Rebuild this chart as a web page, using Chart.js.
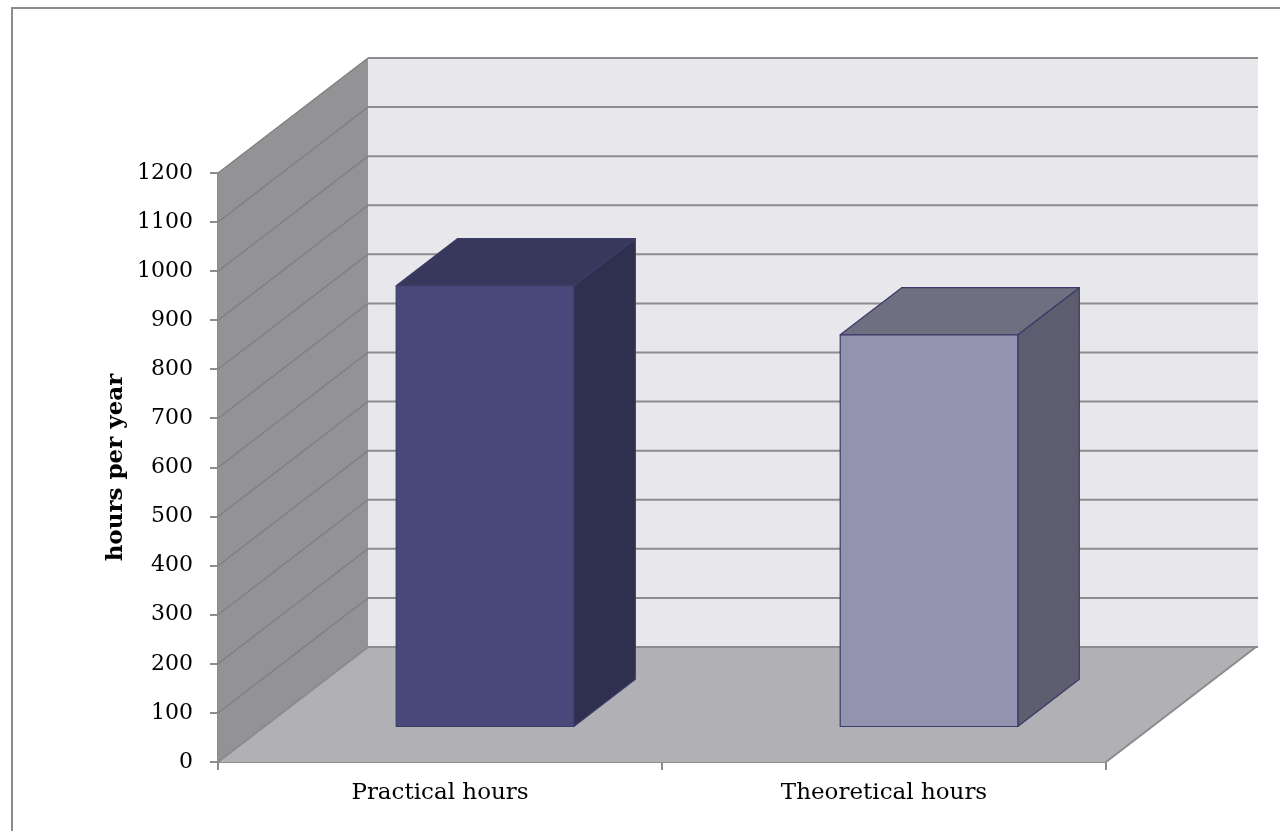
<!DOCTYPE html>
<html>
<head>
<meta charset="utf-8">
<title>hours per year</title>
<script src="https://cdn.jsdelivr.net/npm/chart.js@4/dist/chart.umd.min.js"></script>
<style>
    html, body { margin: 0; padding: 0; background: #fff; }
    canvas { display: block; }
</style>
</head>
<body>
<canvas id="hoursChart" width="1280" height="831"></canvas>
<script>
// Chart data
var categories = ['Practical hours', 'Theoretical hours'];
var hours = [900, 800];
var yTicks = [0, 100, 200, 300, 400, 500, 600, 700, 800, 900, 1000, 1100, 1200];

// Shading for each bar: front, side, top, outline
var barFront = ['#48487a', '#9493af'];
var barSide = ['#2f2f4f', '#5e5c6f'];
var barTop = ['#38385c', '#6f6f80'];
var barEdge = ['#3c3c68', '#3a3a6a'];

// 3D box depth in pixels and where the bars sit inside it
var DEPTH_X = 150;
var DEPTH_Y = 115;
var BAR_FRONT = 0.3;
var BAR_BACK = 0.71;

var serif = "'DejaVu Serif', 'Liberation Serif', serif";

// Frame around the whole chart
var framePlugin = {
    id: 'frame',
    beforeDraw: function(chart) {
        var ctx = chart.ctx;
        ctx.save();
        ctx.fillStyle = '#fff';
        ctx.fillRect(0, 0, chart.width, chart.height);
        ctx.strokeStyle = '#8c8c8c';
        ctx.lineWidth = 2;
        ctx.strokeRect(12, 8, chart.width + 40, chart.height + 40);
        ctx.restore();
    }
};

// Walls, floor and gridlines of the 3D box
var wallsPlugin = {
    id: 'walls',
    beforeDatasetsDraw: function(chart) {
        var ctx = chart.ctx;
        var a = chart.chartArea;
        var y = chart.scales.y;
        var top = y.getPixelForValue(yTicks[yTicks.length - 1]);
        var bottom = y.getPixelForValue(0);
        ctx.save();

        // back wall
        ctx.fillStyle = '#e8e7ec';
        ctx.fillRect(a.left + DEPTH_X, top - DEPTH_Y, a.right - a.left + 2, bottom - top);

        // side wall
        ctx.fillStyle = '#939395';
        ctx.beginPath();
        ctx.moveTo(a.left, bottom);
        ctx.lineTo(a.left, top);
        ctx.lineTo(a.left + DEPTH_X, top - DEPTH_Y);
        ctx.lineTo(a.left + DEPTH_X, bottom - DEPTH_Y);
        ctx.closePath();
        ctx.fill();

        // floor
        ctx.fillStyle = '#b1b0b5';
        ctx.beginPath();
        ctx.moveTo(a.left, bottom);
        ctx.lineTo(a.left + DEPTH_X, bottom - DEPTH_Y);
        ctx.lineTo(a.right + DEPTH_X, bottom - DEPTH_Y);
        ctx.lineTo(a.right, bottom);
        ctx.closePath();
        ctx.fill();

        // gridlines
        yTicks.forEach(function(v) {
            var p = y.getPixelForValue(v);
            ctx.strokeStyle = '#7e7e80';
            ctx.lineWidth = 1.2;
            ctx.beginPath();
            ctx.moveTo(a.left, p);
            ctx.lineTo(a.left + DEPTH_X, p - DEPTH_Y);
            ctx.stroke();
            ctx.strokeStyle = '#8c8c8c';
            ctx.lineWidth = 2;
            ctx.beginPath();
            ctx.moveTo(a.left + DEPTH_X, p - DEPTH_Y);
            ctx.lineTo(a.right + DEPTH_X + 2, p - DEPTH_Y);
            ctx.stroke();
        });

        // floor edges
        ctx.strokeStyle = '#8c8c8c';
        ctx.lineWidth = 2;
        ctx.beginPath();
        ctx.moveTo(a.left, bottom);
        ctx.lineTo(a.left + DEPTH_X, bottom - DEPTH_Y);
        ctx.moveTo(a.right, bottom);
        ctx.lineTo(a.right + DEPTH_X, bottom - DEPTH_Y);
        ctx.stroke();
        ctx.restore();
    },
    afterDatasetsDraw: function(chart) {
        var ctx = chart.ctx;
        var meta = chart.getDatasetMeta(0);
        var dx = (BAR_BACK - BAR_FRONT) * DEPTH_X;
        var dy = (BAR_BACK - BAR_FRONT) * DEPTH_Y;
        ctx.save();
        ctx.lineWidth = 1.2;
        ctx.lineJoin = 'round';
        meta.data.forEach(function(bar, i) {
            var x0 = bar.x - bar.width / 2 + BAR_FRONT * DEPTH_X;
            var x1 = bar.x + bar.width / 2 + BAR_FRONT * DEPTH_X;
            var yt = bar.y - BAR_FRONT * DEPTH_Y;
            var yb = bar.base - BAR_FRONT * DEPTH_Y;
            ctx.strokeStyle = barEdge[i];

            // side
            ctx.fillStyle = barSide[i];
            ctx.beginPath();
            ctx.moveTo(x1, yt);
            ctx.lineTo(x1 + dx, yt - dy);
            ctx.lineTo(x1 + dx, yb - dy);
            ctx.lineTo(x1, yb);
            ctx.closePath();
            ctx.fill();
            ctx.stroke();

            // top
            ctx.fillStyle = barTop[i];
            ctx.beginPath();
            ctx.moveTo(x0, yt);
            ctx.lineTo(x0 + dx, yt - dy);
            ctx.lineTo(x1 + dx, yt - dy);
            ctx.lineTo(x1, yt);
            ctx.closePath();
            ctx.fill();
            ctx.stroke();

            // front
            ctx.fillStyle = barFront[i];
            ctx.fillRect(x0, yt, x1 - x0, yb - yt);
            ctx.strokeRect(x0, yt, x1 - x0, yb - yt);
        });
        ctx.restore();
    }
};

var ctx1 = document.getElementById('hoursChart').getContext('2d');
var hoursChart = new Chart(ctx1, {
    type: 'bar',
    data: {
        labels: categories,
        datasets: [{
            label: 'hours per year',
            data: hours,
            backgroundColor: 'transparent',
            borderWidth: 0,
            categoryPercentage: 1,
            barPercentage: 0.4
        }]
    },
    options: {
        responsive: false,
        animation: false,
        events: [],
        layout: { padding: { top: 173, right: 174, bottom: 0, left: 0 } },
        plugins: {
            legend: { display: false },
            tooltip: { enabled: false }
        },
        scales: {
            x: {
                afterFit: function(scale) { scale.height = 69; },
                grid: { drawOnChartArea: false, drawTicks: true, tickLength: 8, color: '#8c8c8c', lineWidth: 2 },
                border: { display: true, color: '#8c8c8c', width: 2 },
                ticks: { color: '#000', padding: 9, font: { family: serif, size: 23 } }
            },
            y: {
                min: 0,
                max: 1200,
                afterFit: function(scale) { scale.width = 218; },
                afterBuildTicks: function(scale) {
                    scale.ticks = yTicks.map(function(v) { return { value: v }; });
                },
                grid: { drawOnChartArea: false, drawTicks: true, tickLength: 8, color: '#8c8c8c', lineWidth: 2 },
                border: { display: true, color: '#8c8c8c', width: 2 },
                ticks: {
                    color: '#000',
                    padding: 17,
                    font: { family: serif, size: 22 },
                    callback: function(value) { return String(value); }
                },
                title: {
                    display: true,
                    text: 'hours per year',
                    color: '#000',
                    padding: { top: 102, bottom: 0 },
                    font: { family: serif, size: 23, weight: 'bold' }
                }
            }
        }
    },
    plugins: [framePlugin, wallsPlugin]
});
</script>
</body>
</html>
